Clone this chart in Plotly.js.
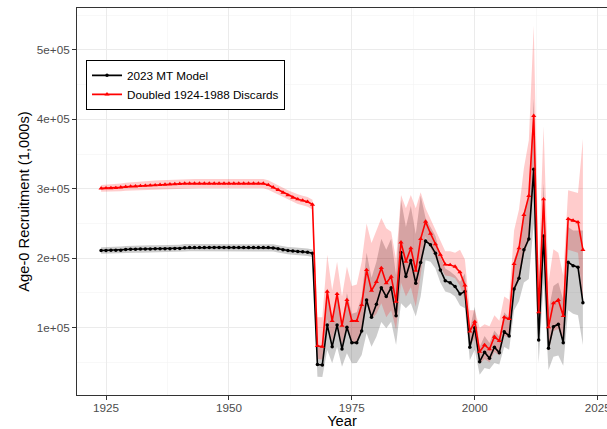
<!DOCTYPE html>
<html><head><meta charset="utf-8">
<script src="https://cdn.plot.ly/plotly-3.0.1.min.js"></script>
<style>html,body{margin:0;padding:0;background:#fff}#chart{width:607px;height:429px}</style>
</head><body><div id="chart"></div>
<script>
// values in thousands of the plotted unit (axis shows 1e+05 etc.)
const UNIT = 1000;

const years = [1924,1925,1926,1927,1928,1929,1930,1931,1932,1933,1934,1935,1936,1937,1938,1939,1940,1941,
1942,1943,1944,1945,1946,1947,1948,1949,1950,1951,1952,1953,1954,1955,1956,1957,1958,
1959,1960,1961,1962,1963,1964,1965,1966,1967,
1968,1969,1970,1971,1972,1973,1974,1975,1976,1977,
1978,1979,1980,1981,1982,1983,1984,1985,1986,1987,
1988,1989,1990,1991,1992,1993,1994,1995,1996,1997,
1998,1999,2000,2001,2002,2003,2004,2005,2006,2007,
2008,2009,2010,2011,2012,2013,2014,2015,2016,2017,
2018,2019,2020,2021,2022];

const mtModel = [211.1,211.2,211.3,211.4,211.6,212.5,212.8,213.0,213.2,213.3,213.4,213.5,213.5,213.6,213.7,213.8,214.0,215.0,
215.3,215.3,215.3,215.3,215.3,215.3,215.3,215.3,215.3,215.3,215.3,215.3,215.3,215.3,215.3,215.3,215.3,
214.8,213.5,212.0,211.0,210.3,209.8,209.2,208.5,207.2,
47.0,46.3,103.9,72.6,103.9,69.3,100.5,78.4,78.4,95.2,
139.9,115.0,133.7,157.6,144.7,157.6,117.3,208.1,173.5,196.7,
164.0,193.7,224.9,219.2,207.2,183.1,167.7,164.8,159.1,148.6,
151.9,71.8,100.0,51.0,64.6,55.9,71.8,64.0,94.2,88.0,
155.8,171.2,212.0,227.8,328.2,82.3,232.1,70.3,101.4,104.9,
78.4,194.2,189.3,187.0,136.0];

const mtModelLo = [206.3,206.4,206.4,206.4,206.5,207.3,207.5,207.7,207.9,208.0,208.1,208.2,208.2,208.3,208.4,208.5,208.7,209.7,
210.0,210.0,210.0,210.0,210.0,210.0,210.0,210.0,210.0,210.0,210.0,210.0,210.0,210.0,210.0,210.0,210.0,
209.5,208.2,206.7,205.7,205.0,204.5,203.9,203.2,201.9,
29.4,29.0,67.9,48.7,72.6,43.8,63.0,48.7,49.0,60.7,
92.0,72.6,87.0,108.0,99.0,108.6,75.0,135.0,128.0,135.0,
116.0,145.0,197.0,195.0,185.0,165.0,152.0,150.0,145.0,132.0,
128.0,53.0,68.0,32.0,42.0,40.0,49.0,47.0,72.0,68.0,
125.0,138.0,165.0,170.0,250.0,48.7,164.0,39.0,58.0,60.0,
45.0,125.0,120.0,118.0,75.0];

const mtModelHi = [215.9,216.0,216.2,216.4,216.7,217.7,218.1,218.3,218.5,218.6,218.7,218.8,218.8,218.9,219.0,219.1,219.3,220.3,
220.6,220.6,220.6,220.6,220.6,220.6,220.6,220.6,220.6,220.6,220.6,220.6,220.6,220.6,220.6,220.6,220.6,
220.1,218.8,217.3,216.3,215.6,215.1,214.5,213.8,212.5,
75,74,157,108,150,104,150,120,122,145,
208,172,195,228,212,228,175,284,245,275,
235,290,258,245,232,203,185,181,175,166,
178,98,130,72,88,78,96,87,122,114,
198,217,266,290,430,135,308,125,160,165,
140,245,240,240,240];

const doubled = [300.6,300.8,301.0,301.2,302.0,302.8,303.3,303.6,304.0,304.4,304.8,305.2,305.6,306.0,306.4,306.8,307.2,307.5,
307.5,307.5,307.5,307.5,307.5,307.5,307.5,307.5,307.5,307.5,307.5,307.5,307.5,307.5,307.5,307.5,
305.5,302.1,298.4,294.6,290.8,287.4,285.0,283.1,281.2,277.3,
73.6,72.6,151.9,109.7,148.6,102.9,139.9,109.7,109.7,132.7,
183.1,153.3,166.0,186.0,164.0,173.5,137.5,222.8,195.1,214.4,
182.1,227.8,252.7,235.5,220.2,205.0,191.0,190.3,187.9,179.8,
161.0,94.5,108.6,65.4,75.1,68.9,87.0,80.8,115.0,112.5,
191.8,214.4,262.4,289.8,405.0,122.5,285.0,100.7,135.2,139.9,
116.9,256.6,254.2,251.9,212.0];

const doubledLo = [295.8,295.8,295.8,295.8,296.4,297.0,297.3,297.4,297.7,298.0,298.3,298.6,298.9,299.3,299.7,300.1,300.5,300.8,
300.8,300.8,300.8,300.8,300.8,300.8,300.8,300.8,300.8,300.8,300.8,300.8,300.8,300.8,300.8,300.8,
298.6,295.1,291.4,287.6,283.8,280.4,278.0,276.1,274.2,270.3,
55,54,112,80,110,75,103,78,78,95,
135,112,120,135,115,125,97,165,145,158,
130,175,232,215,200,187,175,174,171,160,
140,72,85,48,55,50,65,60,88,86,
150,168,205,225,310,80,210,66,95,98,
80,212,210,208,135];

const doubledHi = [305.4,305.8,306.2,306.6,307.6,308.6,309.3,309.8,310.3,310.8,311.3,311.8,312.3,312.7,313.1,313.5,313.9,314.2,
314.2,314.2,314.2,314.2,314.2,314.2,314.2,314.2,314.2,314.2,314.2,314.2,314.2,314.2,314.2,314.2,
312.4,309.1,305.4,301.6,297.8,294.4,292.0,290.1,288.2,284.3,
115,115,205,154,195,145,188,160,162,195,
250,222,240,258,243,238,198,291,272,291,
272,295,272,256,241,224,210,210,208,212,
198,125,125,100,105,102,118,110,145,140,
240,270,330,370,535,185,390,165,213,208,
175,298,296,294,372];

const xTicks = [1925, 1950, 1975, 2000, 2025];
const xTickText = ['1925', '1950', '1975', '2000', '2025'];
const xMinor = [1937.5, 1962.5, 1987.5, 2012.5];
const yTicks = [100000, 200000, 300000, 400000, 500000];
const yTickText = ['1e+05', '2e+05', '3e+05', '4e+05', '5e+05'];
const yMinor = [50000, 150000, 250000, 350000, 450000, 550000];

const sc = a => a.map(v => v * UNIT);

const traces = [
  {x: years, y: sc(mtModelLo), mode: 'lines', line: {width: 0, color: 'rgba(0,0,0,0)'}, showlegend: false, hoverinfo: 'skip'},
  {x: years, y: sc(mtModelHi), mode: 'lines', line: {width: 0, color: 'rgba(0,0,0,0)'}, fill: 'tonexty', fillcolor: 'rgba(0,0,0,0.2)', showlegend: false, hoverinfo: 'skip'},
  {x: years, y: sc(doubledLo), mode: 'lines', line: {width: 0, color: 'rgba(0,0,0,0)'}, showlegend: false, hoverinfo: 'skip'},
  {x: years, y: sc(doubledHi), mode: 'lines', line: {width: 0, color: 'rgba(0,0,0,0)'}, fill: 'tonexty', fillcolor: 'rgba(255,0,0,0.2)', showlegend: false, hoverinfo: 'skip'},
  {x: years, y: sc(mtModel), name: '2023 MT Model', mode: 'lines+markers',
   line: {color: '#000000', width: 1.6}, marker: {symbol: 'circle', size: 3.5, color: '#000000'}},
  {x: years, y: sc(doubled), name: 'Doubled 1924-1988 Discards', mode: 'lines+markers',
   line: {color: '#FF0000', width: 1.6}, marker: {symbol: 'triangle-up', size: 4.5, color: '#FF0000'}}
];

const layout = {
  width: 607, height: 429,
  margin: {l: 77, r: 0, t: 8, b: 34, pad: 0},
  paper_bgcolor: '#ffffff', plot_bgcolor: '#ffffff',
  font: {family: '"Liberation Sans", Arial, sans-serif', size: 11.7, color: '#4D4D4D'},
  showlegend: true,
  xaxis: {
    range: [1919.1, 2026.9], tickmode: 'array', tickvals: xTicks, ticktext: xTickText,
    ticks: 'outside', ticklen: 4, tickwidth: 1, tickcolor: '#333333',
    showgrid: true, gridcolor: '#EBEBEB', gridwidth: 1, zeroline: false,
    showline: true, mirror: true, linecolor: '#333333', linewidth: 1,
    minor: {tickmode: 'array', tickvals: xMinor, showgrid: true, gridcolor: '#F3F3F3', gridwidth: 0.6, ticks: ''},
    tickfont: {size: 11.7, color: '#4D4D4D'}, ticklabeloverflow: 'allow', ticklabelstandoff: -2,
    title: {text: 'Year', font: {size: 14.7, color: '#000000'}, standoff: 7},
    automargin: false
  },
  yaxis: {
    range: [3000, 560300], tickmode: 'array', tickvals: yTicks, ticktext: yTickText,
    ticks: 'outside', ticklen: 4, tickwidth: 1, tickcolor: '#333333',
    showgrid: true, gridcolor: '#EBEBEB', gridwidth: 1, zeroline: false,
    showline: true, mirror: true, linecolor: '#333333', linewidth: 1,
    minor: {tickmode: 'array', tickvals: yMinor, showgrid: true, gridcolor: '#F3F3F3', gridwidth: 0.6, ticks: ''},
    tickfont: {size: 11.7, color: '#4D4D4D'},
    title: {text: 'Age-0 Recruitment (1,000s)', font: {size: 14.7, color: '#000000'}, standoff: 3},
    automargin: false
  },
  legend: {
    x: 0.017, y: 0.866, xanchor: 'left', yanchor: 'top', traceorder: 'normal',
    bgcolor: '#ffffff', bordercolor: '#000000', borderwidth: 1,
    font: {size: 11.7, color: '#000000'}, itemwidth: 30, tracegroupgap: 0
  }
};

Plotly.newPlot('chart', traces, layout, {displayModeBar: false, staticPlot: true});
</script>
</body></html>
